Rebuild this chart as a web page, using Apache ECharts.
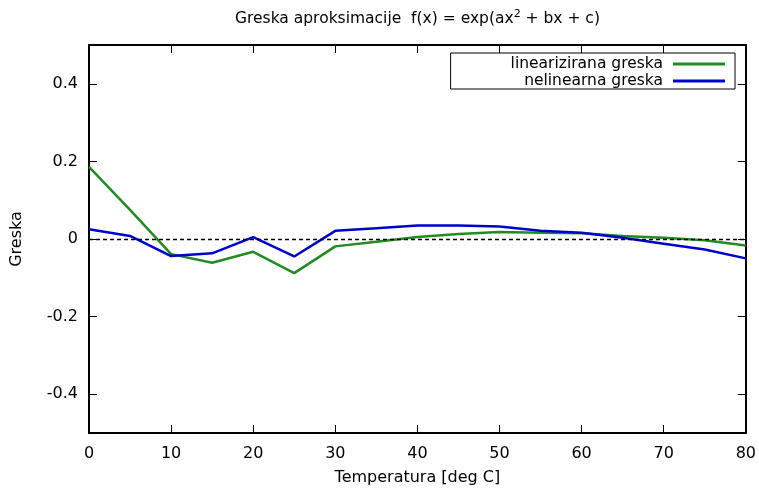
<!DOCTYPE html>
<html>
<head>
<meta charset="utf-8">
<script src="https://cdn.jsdelivr.net/npm/echarts@6/dist/echarts.min.js"></script>
<style>html,body{margin:0;padding:0;background:#fff}#c{width:759px;height:491px}</style>
</head>
<body>
<div id="c"></div>
<script>
var temps = [0, 5, 10, 15, 20, 25, 30, 35, 40, 45, 50, 55, 60, 65, 70, 75, 80];
var linErr = [0.186, 0.075, -0.039, -0.061, -0.033, -0.088, -0.019, -0.007, 0.005, 0.013, 0.018, 0.016, 0.015, 0.008, 0.003, -0.003, -0.017];
var nonlinErr = [0.025, 0.008, -0.044, -0.037, 0.005, -0.045, 0.021, 0.028, 0.035, 0.035, 0.032, 0.021, 0.016, 0.003, -0.012, -0.027, -0.050];
var yTicks = [-0.4, -0.2, 0, 0.2, 0.4];
var seriesNames = ['linearizirana greska', 'nelinearna greska'];

var font = 'DejaVu Sans, Liberation Sans, Arial, sans-serif';
var chart = echarts.init(document.getElementById('c'));
function pairs(xs, ys) { return xs.map(function (x, i) { return [x, ys[i]]; }); }
var axisLine = { show: true, onZero: false, lineStyle: { color: '#000', width: 2 } };
var tick = { show: true, inside: true, length: 8, lineStyle: { color: '#000', width: 1 } };
var yTick = { show: true, inside: true, length: 8, lineStyle: { color: '#000', width: 1 }, customValues: yTicks };
chart.setOption({
  animation: false,
  backgroundColor: '#fff',
  title: {
    text: 'Greska aproksimacije  f(x) = exp(ax{s|2} + bx + c)',
    left: 230,
    top: 4,
    textStyle: {
      fontFamily: font, fontSize: 15.5, fontWeight: 'normal', color: '#000',
      rich: { s: { fontFamily: font, fontSize: 11, verticalAlign: 'top', padding: [0, 0, 9, 0], color: '#000' } }
    }
  },
  legend: {
    orient: 'vertical',
    right: 24,
    top: 53,
    align: 'right',
    padding: [3, 10, 0, 60],
    itemGap: 1,
    itemWidth: 52,
    itemHeight: 3,
    borderColor: '#000',
    borderWidth: 1,
    borderRadius: 0,
    textStyle: { fontFamily: font, fontSize: 15.5, color: '#000', width: 195, align: 'right', padding: [0, 5, 0, 0] },
    data: seriesNames.map(function (n) { return { name: n, icon: 'rect' }; })
  },
  grid: { left: 89, right: 13, top: 45, bottom: 56 },
  xAxis: [{
    type: 'value', min: 0, max: 80, interval: 10,
    name: 'Temperatura [deg C]', nameLocation: 'middle', nameGap: 37,
    nameTextStyle: { fontFamily: font, fontSize: 16, color: '#000' },
    axisLine: axisLine, axisTick: tick, splitLine: { show: false },
    axisLabel: { fontFamily: font, fontSize: 16, color: '#000', margin: 13 }
  }, {
    type: 'value', min: 0, max: 80, interval: 10, position: 'top',
    axisLine: axisLine, axisTick: tick, splitLine: { show: false },
    axisLabel: { show: false }
  }],
  yAxis: [{
    type: 'value', min: -0.5, max: 0.5,
    name: 'Greska', nameLocation: 'middle', nameGap: 64, nameRotate: 90,
    nameTextStyle: { fontFamily: font, fontSize: 16, color: '#000' },
    axisLine: axisLine, axisTick: yTick, splitLine: { show: false },
    axisLabel: { fontFamily: font, fontSize: 16, color: '#000', margin: 11, customValues: yTicks,
      formatter: function (v) { return String(Math.round(v * 10) / 10); } }
  }, {
    type: 'value', min: -0.5, max: 0.5, position: 'right',
    axisLine: axisLine, axisTick: yTick, splitLine: { show: false },
    axisLabel: { show: false }
  }],
  series: [{
    name: seriesNames[0], type: 'line', symbol: 'none', z: 3,
    data: pairs(temps, linErr),
    lineStyle: { color: '#228b22', width: 2.5 }, itemStyle: { color: '#228b22' },
    markLine: {
      silent: true, symbol: 'none', label: { show: false },
      lineStyle: { color: '#000', type: [4, 3], width: 1.3 },
      data: [{ yAxis: 0 }]
    }
  }, {
    name: seriesNames[1], type: 'line', symbol: 'none', z: 4,
    data: pairs(temps, nonlinErr),
    lineStyle: { color: '#0000cc', width: 2.5 }, itemStyle: { color: '#0000cc' }
  }]
});
</script>
</body>
</html>
